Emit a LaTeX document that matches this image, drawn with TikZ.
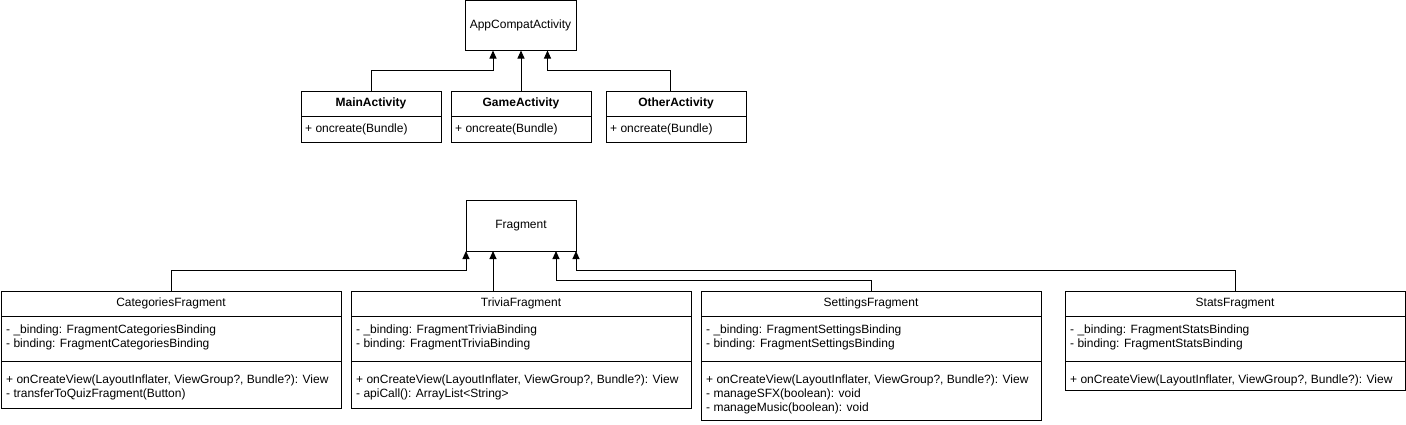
\documentclass[tikz,border=0pt]{standalone}
\usepackage{fontspec}
\setmainfont{Liberation Sans}
\usetikzlibrary{arrows.meta}

\tikzset{
  uml/.style={draw, line width=1pt, outer sep=0pt, inner sep=0pt},
  classhead/.style={uml, minimum height=25pt},
  boldhead/.style={classhead, font=\fontsize{12}{14}\selectfont\bfseries},
  members/.style={anchor=north west, align=left, inner sep=0pt},
  inherit/.style={line width=1pt, -{Triangle[length=8pt,width=7pt]}}
}

\begin{document}
\begin{tikzpicture}[x=1pt, y=-1pt, font=\fontsize{12}{14}\selectfont]
      \useasboundingbox (0,0) rectangle (1406,424);

      % Activities
      \node[uml, minimum width=111pt, minimum height=50pt] (app) at (520.5,25.5) {AppCompatActivity};

      \node[boldhead, minimum width=140pt] (main) at (371,103.5) {MainActivity};
      \node[uml, minimum width=140pt, minimum height=26pt, anchor=north] (mainB) at (main.south) {};
      \node[members, anchor=west] at ([xshift=4pt]mainB.west) {+ oncreate(Bundle)};

      \node[boldhead, minimum width=140pt] (game) at (521,103.5) {GameActivity};
      \node[uml, minimum width=140pt, minimum height=26pt, anchor=north] (gameB) at (game.south) {};
      \node[members, anchor=west] at ([xshift=4pt]gameB.west) {+ oncreate(Bundle)};

      \node[boldhead, minimum width=140pt] (other) at (676,103.5) {OtherActivity};
      \node[uml, minimum width=140pt, minimum height=26pt, anchor=north] (otherB) at (other.south) {};
      \node[members, anchor=west] at ([xshift=4pt]otherB.west) {+ oncreate(Bundle)};

      \draw[inherit] (main.north) -- ++(0,-21) -| ([xshift=-27.5pt]app.south);
      \draw[inherit] (game.north) -- (game.north |- app.south);
      \draw[inherit] ([xshift=-6pt]other.north) -- ++(0,-21) -| ([xshift=27pt]app.south);

      % Fragments
      \node[uml, minimum width=110pt, minimum height=51pt] (frag) at (521,225.5) {Fragment};

      \node[classhead, minimum width=340pt] (cat) at (171,303.5) {CategoriesFragment};
      \node[uml, minimum width=340pt, minimum height=45pt, anchor=north] (catA) at (cat.south) {};
      \node[uml, minimum width=340pt, minimum height=47pt, anchor=north] (catM) at (catA.south) {};
      \node[members] at ([xshift=5pt, yshift=-8.5pt]catA.north west)
        {- \_binding: FragmentCategoriesBinding\\- binding: FragmentCategoriesBinding};
      \node[members] at ([xshift=5pt, yshift=-13.5pt]catM.north west)
        {+ onCreateView(LayoutInflater, ViewGroup?, Bundle?): View\\- transferToQuizFragment(Button)};

      \node[classhead, minimum width=340pt] (triv) at (521,303.5) {TriviaFragment};
      \node[uml, minimum width=340pt, minimum height=45pt, anchor=north] (trivA) at (triv.south) {};
      \node[uml, minimum width=340pt, minimum height=47pt, anchor=north] (trivM) at (trivA.south) {};
      \node[members] at ([xshift=5pt, yshift=-8.5pt]trivA.north west)
        {- \_binding: FragmentTriviaBinding\\- binding: FragmentTriviaBinding};
      \node[members] at ([xshift=5pt, yshift=-13.5pt]trivM.north west)
        {+ onCreateView(LayoutInflater, ViewGroup?, Bundle?): View\\- apiCall(): ArrayList<String>};

      \node[classhead, minimum width=340pt] (set) at (871,303.5) {SettingsFragment};
      \node[uml, minimum width=340pt, minimum height=45pt, anchor=north] (setA) at (set.south) {};
      \node[uml, minimum width=340pt, minimum height=59pt, anchor=north] (setM) at (setA.south) {};
      \node[members] at ([xshift=5pt, yshift=-8.5pt]setA.north west)
        {- \_binding: FragmentSettingsBinding\\- binding: FragmentSettingsBinding};
      \node[members] at ([xshift=5pt, yshift=-13.5pt]setM.north west)
        {+ onCreateView(LayoutInflater, ViewGroup?, Bundle?): View\\- manageSFX(boolean): void\\- manageMusic(boolean): void};

      \node[classhead, minimum width=340pt] (stat) at (1235,303.5) {StatsFragment};
      \node[uml, minimum width=340pt, minimum height=45pt, anchor=north] (statA) at (stat.south) {};
      \node[uml, minimum width=340pt, minimum height=29pt, anchor=north] (statM) at (statA.south) {};
      \node[members] at ([xshift=5pt, yshift=-8.5pt]statA.north west)
        {- \_binding: FragmentStatsBinding\\- binding: FragmentStatsBinding};
      \node[members] at ([xshift=5pt, yshift=-13.5pt]statM.north west)
        {+ onCreateView(LayoutInflater, ViewGroup?, Bundle?): View};

      \draw[inherit] (cat.north) -- ++(0,-21) -| (frag.south west);
      \draw[inherit] ([xshift=-28pt]triv.north) -- ([xshift=-28pt]frag.south);
      \draw[inherit] (set.north) -- ++(0,-11) -| ([xshift=35pt]frag.south);
      \draw[inherit] (stat.north) -- ++(0,-21) -| (frag.south east);
    \end{tikzpicture}
\end{document}
